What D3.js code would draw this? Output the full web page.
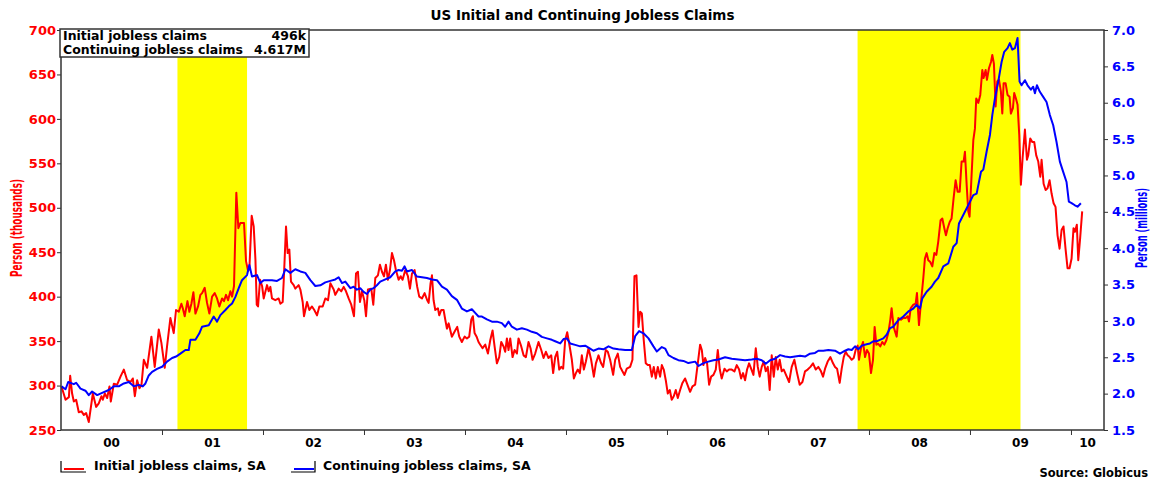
<!DOCTYPE html>
<html>
<head>
<meta charset="utf-8">
<script src="https://cdnjs.cloudflare.com/ajax/libs/d3/7.8.5/d3.min.js"></script>
<style>
  body { margin: 0; background: #fff; }
  svg text { font-family: "DejaVu Sans", Verdana, sans-serif; }
</style>
</head>
<body>
<div id="chart"></div>
<script>
// weekly readings (decimal years), initial claims in thousands
var initialYears = [
  2000.005, 2000.045, 2000.078, 2000.091, 2000.110, 2000.127, 2000.150, 2000.176, 2000.203, 2000.226,
  2000.249, 2000.275, 2000.315, 2000.348, 2000.374, 2000.401, 2000.414, 2000.434, 2000.457, 2000.480,
  2000.493, 2000.523, 2000.556, 2000.589, 2000.622, 2000.655, 2000.688, 2000.711, 2000.731, 2000.754,
  2000.777, 2000.797, 2000.820, 2000.853, 2000.895, 2000.928, 2000.968, 2000.994, 2001.027, 2001.050,
  2001.083, 2001.116, 2001.139, 2001.166, 2001.192, 2001.206, 2001.225, 2001.252, 2001.271, 2001.291,
  2001.311, 2001.331, 2001.357, 2001.380, 2001.397, 2001.423, 2001.446, 2001.469, 2001.496, 2001.522,
  2001.545, 2001.568, 2001.595, 2001.614, 2001.634, 2001.654, 2001.677, 2001.694, 2001.713, 2001.736,
  2001.756, 2001.776, 2001.792, 2001.812, 2001.832, 2001.852, 2001.865, 2001.888, 2001.908, 2001.925,
  2001.938, 2001.951, 2001.971, 2001.991, 2002.007, 2002.040, 2002.056, 2002.073, 2002.089, 2002.122,
  2002.155, 2002.172, 2002.195, 2002.205, 2002.228, 2002.244, 2002.261, 2002.277, 2002.304, 2002.320,
  2002.353, 2002.370, 2002.393, 2002.406, 2002.436, 2002.459, 2002.485, 2002.508, 2002.535, 2002.558,
  2002.591, 2002.617, 2002.644, 2002.667, 2002.700, 2002.716, 2002.749, 2002.775, 2002.799, 2002.822,
  2002.848, 2002.874, 2002.901, 2002.921, 2002.940, 2002.960, 2002.980, 2003.003, 2003.020, 2003.039,
  2003.072, 2003.092, 2003.112, 2003.138, 2003.158, 2003.178, 2003.198, 2003.217, 2003.237, 2003.257,
  2003.277, 2003.297, 2003.316, 2003.343, 2003.363, 2003.382, 2003.409, 2003.435, 2003.455, 2003.475,
  2003.501, 2003.527, 2003.547, 2003.574, 2003.600, 2003.626, 2003.640, 2003.659, 2003.673, 2003.689,
  2003.706, 2003.732, 2003.745, 2003.765, 2003.788, 2003.805, 2003.821, 2003.838, 2003.857, 2003.870,
  2003.903, 2003.923, 2003.943, 2003.969, 2003.996, 2004.019, 2004.042, 2004.062, 2004.078, 2004.095,
  2004.115, 2004.134, 2004.151, 2004.174, 2004.201, 2004.227, 2004.250, 2004.273, 2004.293, 2004.316,
  2004.339, 2004.359, 2004.382, 2004.398, 2004.415, 2004.431, 2004.448, 2004.471, 2004.491, 2004.514,
  2004.530, 2004.557, 2004.580, 2004.603, 2004.629, 2004.649, 2004.669, 2004.695, 2004.728, 2004.755,
  2004.778, 2004.801, 2004.827, 2004.854, 2004.873, 2004.893, 2004.913, 2004.933, 2004.953, 2004.972,
  2004.992, 2005.012, 2005.032, 2005.058, 2005.078, 2005.098, 2005.117, 2005.137, 2005.157, 2005.177,
  2005.197, 2005.223, 2005.249, 2005.276, 2005.296, 2005.322, 2005.348, 2005.368, 2005.394, 2005.414,
  2005.437, 2005.467, 2005.487, 2005.513, 2005.536, 2005.559, 2005.579, 2005.602, 2005.635, 2005.658,
  2005.678, 2005.698, 2005.718, 2005.734, 2005.751, 2005.770, 2005.790, 2005.810, 2005.830, 2005.850,
  2005.869, 2005.889, 2005.909, 2005.932, 2005.949, 2005.968, 2005.988, 2006.008, 2006.028, 2006.047,
  2006.067, 2006.087, 2006.107, 2006.130, 2006.153, 2006.179, 2006.229, 2006.252, 2006.279, 2006.305,
  2006.328, 2006.345, 2006.361, 2006.378, 2006.397, 2006.417, 2006.437, 2006.460, 2006.483, 2006.503,
  2006.523, 2006.542, 2006.569, 2006.592, 2006.615, 2006.641, 2006.668, 2006.691, 2006.714, 2006.734,
  2006.753, 2006.773, 2006.793, 2006.813, 2006.833, 2006.856, 2006.879, 2006.899, 2006.918, 2006.938,
  2006.958, 2006.978, 2006.998, 2007.017, 2007.037, 2007.057, 2007.077, 2007.097, 2007.116, 2007.136,
  2007.156, 2007.186, 2007.209, 2007.235, 2007.261, 2007.288, 2007.314, 2007.341, 2007.367, 2007.393,
  2007.420, 2007.446, 2007.473, 2007.499, 2007.525, 2007.545, 2007.565, 2007.591, 2007.618, 2007.644,
  2007.664, 2007.684, 2007.710, 2007.730, 2007.750, 2007.769, 2007.789, 2007.809, 2007.829, 2007.849,
  2007.868, 2007.888, 2007.901, 2007.921, 2007.941, 2007.961, 2007.980, 2008.000, 2008.020, 2008.040,
  2008.056, 2008.073, 2008.092, 2008.112, 2008.132, 2008.152, 2008.172, 2008.191, 2008.211, 2008.224,
  2008.244, 2008.274, 2008.291, 2008.317, 2008.340, 2008.363, 2008.383, 2008.396, 2008.413, 2008.439,
  2008.462, 2008.475, 2008.495, 2008.515, 2008.538, 2008.554, 2008.571, 2008.587, 2008.607, 2008.627,
  2008.647, 2008.667, 2008.686, 2008.709, 2008.726, 2008.746, 2008.762, 2008.779, 2008.799, 2008.818,
  2008.838, 2008.858, 2008.878, 2008.898, 2008.917, 2008.937, 2008.950, 2008.967, 2008.983, 2008.996,
  2009.016, 2009.033, 2009.049, 2009.062, 2009.082, 2009.102, 2009.122, 2009.135, 2009.155, 2009.168,
  2009.188, 2009.208, 2009.221, 2009.237, 2009.254, 2009.270, 2009.287, 2009.306, 2009.320, 2009.333,
  2009.353, 2009.372, 2009.392, 2009.405, 2009.425, 2009.438, 2009.455, 2009.471, 2009.488, 2009.504,
  2009.521, 2009.544, 2009.564, 2009.577, 2009.597, 2009.617, 2009.636, 2009.656, 2009.676, 2009.696,
  2009.709, 2009.729, 2009.749, 2009.768, 2009.788, 2009.808, 2009.828, 2009.847, 2009.867, 2009.887,
  2009.907, 2009.926, 2009.946, 2009.966, 2009.986, 2010.006, 2010.025, 2010.039, 2010.058, 2010.072,
  2010.091, 2010.111
];
var initialValues = [
  299, 284, 287, 311, 291, 282, 284, 270, 271, 267,
  269, 259, 291, 276, 280, 288, 284, 291, 286, 299,
  282, 302, 301, 310, 318, 306, 304, 308, 288, 306,
  297, 301, 329, 320, 355, 321, 363, 348, 320, 344,
  376, 359, 385, 383, 392, 387, 378, 395, 383, 392,
  405, 381, 389, 402, 404, 410, 393, 381, 400, 404,
  398, 389, 398, 395, 402, 396, 406, 400, 412, 517,
  477, 483, 483, 483, 440, 429, 431, 491, 479, 442,
  391, 389, 419, 412, 398, 413, 406, 411, 398, 396,
  398, 392, 394, 417, 479, 449, 453, 417, 413, 409,
  413, 408, 394, 378, 394, 385, 389, 385, 379, 389,
  389, 398, 396, 415, 408, 402, 409, 406, 411, 406,
  398, 391, 378, 426, 428, 394, 406, 396, 378, 408,
  409, 391, 421, 424, 436, 428, 423, 436, 419, 430,
  449, 441, 430, 419, 423, 419, 430, 423, 409, 426,
  430, 411, 400, 398, 404, 396, 393, 415, 424, 396,
  385, 387, 379, 385, 385, 374, 364, 370, 361, 355,
  362, 366, 355, 349, 355, 353, 355, 374, 378, 359,
  355, 349, 346, 342, 346, 336, 351, 362, 344, 325,
  332, 349, 344, 338, 353, 340, 353, 332, 340, 336,
  353, 344, 334, 332, 349, 342, 329, 336, 349, 340,
  331, 338, 331, 334, 314, 332, 338, 318, 321, 319,
  351, 360, 347, 329, 308, 314, 318, 314, 334, 318,
  327, 342, 329, 310, 325, 334, 325, 321, 340, 338,
  329, 312, 329, 336, 321, 316, 312, 319, 321, 329,
  423, 424, 366, 383, 381, 351, 325, 323, 323, 310,
  321, 308, 321, 310, 323, 318, 306, 291, 295, 284,
  288, 295, 286, 295, 303, 308, 293, 299, 301, 325,
  346, 340, 323, 331, 325, 301, 310, 312, 318, 340,
  318, 308, 319, 316, 318, 318, 316, 323, 318, 308,
  314, 306, 318, 325, 319, 312, 342, 321, 310, 321,
  327, 316, 321, 295, 334, 310, 332, 318, 329, 316,
  318, 310, 304, 321, 329, 314, 301, 304, 316, 318,
  321, 325, 318, 321, 316, 310, 319, 327, 332, 325,
  321, 319, 303, 319, 332, 338, 334, 332, 329, 331,
  340, 345, 329, 342, 349, 332, 340, 336, 314, 329,
  366, 346, 347, 344, 349, 346, 351, 359, 374, 387,
  366, 355, 376, 374, 376, 376, 378, 372, 387, 391,
  392, 404, 368, 394, 421, 443, 449, 441, 439, 434,
  449, 447, 462, 486, 488, 477, 469, 477, 484, 488,
  511, 531, 518, 518, 552, 552, 563, 526, 496, 490,
  537, 576, 589, 623, 618, 627, 655, 646, 655, 644,
  657, 664, 672, 662, 614, 642, 644, 631, 606, 640,
  640, 627, 625, 606, 612, 629, 623, 616, 582, 526,
  556, 588, 554, 559, 578, 574, 574, 559, 552, 535,
  554, 527, 520, 522, 531, 516, 505, 501, 469, 454,
  475, 479, 454, 432, 432, 443, 477, 473, 481, 441,
  466, 496
];

// continuing claims in millions
var continuingYears = [
  2000.005, 2000.045, 2000.071, 2000.127, 2000.150, 2000.193, 2000.242, 2000.275, 2000.308, 2000.358,
  2000.407, 2000.473, 2000.523, 2000.572, 2000.622, 2000.671, 2000.721, 2000.770, 2000.810, 2000.836,
  2000.869, 2000.902, 2000.951, 2001.001, 2001.050, 2001.100, 2001.139, 2001.182, 2001.232, 2001.265,
  2001.281, 2001.331, 2001.370, 2001.397, 2001.463, 2001.512, 2001.545, 2001.578, 2001.628, 2001.661,
  2001.694, 2001.727, 2001.760, 2001.792, 2001.842, 2001.865, 2001.891, 2001.941, 2001.974, 2002.007,
  2002.089, 2002.139, 2002.188, 2002.221, 2002.271, 2002.320, 2002.370, 2002.419, 2002.469, 2002.518,
  2002.568, 2002.617, 2002.667, 2002.716, 2002.749, 2002.782, 2002.815, 2002.865, 2002.898, 2002.930,
  2002.963, 2002.996, 2003.029, 2003.062, 2003.095, 2003.128, 2003.161, 2003.211, 2003.260, 2003.310,
  2003.343, 2003.376, 2003.402, 2003.425, 2003.475, 2003.524, 2003.574, 2003.623, 2003.673, 2003.722,
  2003.772, 2003.821, 2003.870, 2003.920, 2003.969, 2004.019, 2004.068, 2004.101, 2004.134, 2004.168,
  2004.217, 2004.267, 2004.316, 2004.365, 2004.398, 2004.431, 2004.464, 2004.514, 2004.563, 2004.613,
  2004.662, 2004.712, 2004.761, 2004.811, 2004.860, 2004.893, 2004.943, 2004.976, 2005.009, 2005.042,
  2005.091, 2005.141, 2005.190, 2005.239, 2005.272, 2005.322, 2005.371, 2005.421, 2005.470, 2005.520,
  2005.586, 2005.652, 2005.685, 2005.724, 2005.767, 2005.817, 2005.866, 2005.899, 2005.949, 2005.982,
  2006.015, 2006.064, 2006.113, 2006.163, 2006.212, 2006.279, 2006.312, 2006.361, 2006.410, 2006.460,
  2006.509, 2006.575, 2006.641, 2006.707, 2006.773, 2006.839, 2006.889, 2006.938, 2006.978, 2007.021,
  2007.070, 2007.120, 2007.169, 2007.219, 2007.268, 2007.317, 2007.367, 2007.416, 2007.466, 2007.499,
  2007.548, 2007.598, 2007.664, 2007.713, 2007.763, 2007.796, 2007.829, 2007.862, 2007.895, 2007.928,
  2007.977, 2008.010, 2008.043, 2008.076, 2008.109, 2008.142, 2008.175, 2008.208, 2008.241, 2008.291,
  2008.340, 2008.390, 2008.439, 2008.472, 2008.505, 2008.528, 2008.571, 2008.620, 2008.653, 2008.686,
  2008.736, 2008.785, 2008.835, 2008.868, 2008.891, 2008.950, 2009.033, 2009.066, 2009.109, 2009.132,
  2009.165, 2009.198, 2009.221, 2009.247, 2009.280, 2009.313, 2009.339, 2009.372, 2009.395, 2009.419,
  2009.445, 2009.471, 2009.491, 2009.511, 2009.544, 2009.570, 2009.603, 2009.626, 2009.643, 2009.663,
  2009.692, 2009.725, 2009.758, 2009.791, 2009.824, 2009.857, 2009.890, 2009.923, 2009.956, 2009.979,
  2010.006, 2010.039, 2010.065, 2010.098
];
var continuingValues = [
  2.10, 2.06, 2.16, 2.13, 2.15, 2.07, 2.04, 1.98, 2.03, 1.98,
  2.01, 2.05, 2.10, 2.10, 2.14, 2.16, 2.10, 2.12, 2.10, 2.14,
  2.25, 2.30, 2.34, 2.37, 2.44, 2.49, 2.51, 2.55, 2.60, 2.60,
  2.74, 2.74, 2.83, 2.92, 2.94, 3.06, 2.99, 3.08, 3.15, 3.20,
  3.24, 3.33, 3.45, 3.56, 3.63, 3.77, 3.61, 3.63, 3.52, 3.56,
  3.56, 3.55, 3.59, 3.71, 3.66, 3.71, 3.68, 3.66, 3.56, 3.48,
  3.49, 3.53, 3.55, 3.57, 3.60, 3.52, 3.54, 3.45, 3.47, 3.43,
  3.45, 3.40, 3.37, 3.43, 3.45, 3.49, 3.54, 3.57, 3.60, 3.68,
  3.70, 3.69, 3.75, 3.68, 3.70, 3.61, 3.60, 3.59, 3.57, 3.56,
  3.47, 3.43, 3.34, 3.29, 3.17, 3.13, 3.16, 3.11, 3.06, 3.06,
  3.02, 2.99, 2.99, 2.97, 2.92, 2.99, 2.92, 2.88, 2.90, 2.88,
  2.85, 2.83, 2.78, 2.76, 2.74, 2.72, 2.69, 2.75, 2.76, 2.69,
  2.67, 2.65, 2.66, 2.62, 2.59, 2.62, 2.61, 2.65, 2.62, 2.61,
  2.60, 2.60, 2.79, 2.86, 2.83, 2.76, 2.65, 2.58, 2.64, 2.62,
  2.53, 2.49, 2.46, 2.45, 2.42, 2.44, 2.38, 2.42, 2.44, 2.46,
  2.47, 2.50, 2.48, 2.47, 2.46, 2.47, 2.48, 2.46, 2.41, 2.46,
  2.48, 2.53, 2.51, 2.50, 2.51, 2.52, 2.51, 2.55, 2.56, 2.59,
  2.59, 2.60, 2.59, 2.55, 2.59, 2.61, 2.60, 2.65, 2.61, 2.66,
  2.68, 2.69, 2.72, 2.72, 2.74, 2.76, 2.81, 2.90, 2.92, 3.01,
  3.06, 3.13, 3.17, 3.22, 3.17, 3.31, 3.40, 3.47, 3.54, 3.59,
  3.75, 3.79, 4.02, 4.07, 4.34, 4.50, 4.73, 4.75, 5.05, 5.08,
  5.33, 5.56, 5.83, 6.06, 6.29, 6.56, 6.70, 6.75, 6.82, 6.73,
  6.75, 6.89, 6.29, 6.24, 6.31, 6.24, 6.18, 6.22, 6.13, 6.24,
  6.15, 6.08, 6.01, 5.83, 5.69, 5.46, 5.19, 5.05, 4.91, 4.64,
  4.62, 4.59, 4.57, 4.617
];

var recessions = [[2001.153, 2001.842], [2007.887, 2009.500]];
var yearTicks = [2001, 2002, 2003, 2004, 2005, 2006, 2007, 2008, 2009, 2010];
var labelYears = [2000, 2001, 2002, 2003, 2004, 2005, 2006, 2007, 2008, 2009, 2010];
var yearLabels = ["00", "01", "02", "03", "04", "05", "06", "07", "08", "09", "10"];
var leftTicks = [250, 300, 350, 400, 450, 500, 550, 600, 650, 700];
var rightTicks = [1.5, 2.0, 2.5, 3.0, 3.5, 4.0, 4.5, 5.0, 5.5, 6.0, 6.5, 7.0];
var latestNames = ["Initial jobless claims", "Continuing jobless claims"];
var latestValues = ["496k", "4.617M"];
var seriesNames = ["Initial jobless claims, SA", "Continuing jobless claims, SA"];

var margin = { top: 30, right: 47, bottom: 50, left: 61 },
    width = 1151 - margin.left - margin.right,
    height = 480 - margin.top - margin.bottom,
    xEnd = 2010.327,
    font = '"DejaVu Sans", Verdana, sans-serif',
    narrow = '"DejaVu Sans Condensed", "Liberation Sans Narrow", "Liberation Sans", sans-serif';

var svg = d3.select('#chart').append('svg')
    .attr('width', width + margin.left + margin.right)
    .attr('height', height + margin.top + margin.bottom);
var g = svg.append('g')
    .attr('transform', 'translate(' + margin.left + ',' + margin.top + ')');

var x = d3.scaleLinear().domain([2000, xEnd]).range([0, width]);
var yLeft = d3.scaleLinear().domain([250, 700]).range([height, 0]);
var yRight = d3.scaleLinear().domain([1.5, 7.0]).range([height, 0]);

// recession bands
g.selectAll('rect.recession')
  .data(recessions)
  .join('rect')
    .attr('class', 'recession')
    .attr('x', d => x(d[0]))
    .attr('y', 0)
    .attr('width', d => x(d[1]) - x(d[0]))
    .attr('height', height)
    .attr('fill', '#ffff00');

var initial = d3.zip(initialYears, initialValues);
var continuing = d3.zip(continuingYears, continuingValues);

g.append('path')
    .datum(initial)
    .attr('fill', 'none')
    .attr('stroke', '#ff0000')
    .attr('stroke-width', 2)
    .attr('stroke-linejoin', 'round')
    .attr('d', d3.line().x(d => x(d[0])).y(d => yLeft(d[1])));

g.append('path')
    .datum(continuing)
    .attr('fill', 'none')
    .attr('stroke', '#0000ff')
    .attr('stroke-width', 2)
    .attr('stroke-linejoin', 'round')
    .attr('d', d3.line().x(d => x(d[0])).y(d => yRight(d[1])));

// frame
g.append('rect')
    .attr('width', width)
    .attr('height', height)
    .attr('fill', 'none')
    .attr('stroke', '#333')
    .attr('stroke-width', 1.5);

// axes
var leftAxis = g.append('g')
    .call(d3.axisLeft(yLeft).tickValues(leftTicks).tickSize(4).tickPadding(1))
    .attr('font-family', font).attr('font-size', 13).attr('font-weight', 'bold')
    .style('color', '#333');
leftAxis.select('.domain').remove();
leftAxis.selectAll('text').attr('fill', '#ff0000');

var rightAxis = g.append('g')
    .attr('transform', 'translate(' + width + ',0)')
    .call(d3.axisRight(yRight).tickValues(rightTicks).tickSize(4).tickPadding(4).tickFormat(d3.format('.1f')))
    .attr('font-family', font).attr('font-size', 13).attr('font-weight', 'bold')
    .style('color', '#333');
rightAxis.select('.domain').remove();
rightAxis.selectAll('text').attr('fill', '#0000ff');

var bottomAxis = g.append('g')
    .attr('transform', 'translate(0,' + height + ')')
    .call(d3.axisBottom(x).tickValues(yearTicks).tickSize(5).tickFormat(''))
    .style('color', '#333');
bottomAxis.select('.domain').remove();

g.selectAll('text.year')
  .data(labelYears)
  .join('text')
    .attr('class', 'year')
    .attr('x', (d, i) => x((d + Math.min(d + 1, xEnd)) / 2))
    .attr('y', height + 17)
    .attr('text-anchor', 'middle')
    .style('font-size', '12px')
    .style('font-weight', 'bold')
    .text((d, i) => yearLabels[i]);

// axis titles
svg.append('text')
    .attr('transform', 'translate(22,228) rotate(-90)')
    .attr('text-anchor', 'middle')
    .attr('textLength', 98)
    .attr('lengthAdjust', 'spacingAndGlyphs')
    .style('font-family', narrow)
    .style('font-size', '15px')
    .style('font-weight', 'bold')
    .attr('fill', '#ff0000')
    .text('Person (thousands)');

svg.append('text')
    .attr('transform', 'translate(1147,228) rotate(-90)')
    .attr('text-anchor', 'middle')
    .attr('textLength', 80)
    .attr('lengthAdjust', 'spacingAndGlyphs')
    .style('font-family', narrow)
    .style('font-size', '15px')
    .style('font-weight', 'bold')
    .attr('fill', '#0000ff')
    .text('Person (millions)');

// title
svg.append('text')
    .attr('x', margin.left + width / 2)
    .attr('y', 20)
    .attr('text-anchor', 'middle')
    .style('font-size', '13.5px')
    .style('font-weight', 'bold')
    .text('US Initial and Continuing Jobless Claims');

// latest values box
var box = g.append('g');
box.append('rect')
    .attr('x', -1)
    .attr('y', -1)
    .attr('width', 249)
    .attr('height', 28)
    .attr('fill', '#fff')
    .attr('stroke', '#333')
    .attr('stroke-width', 1.5);
box.selectAll('text.name')
  .data(latestNames)
  .join('text')
    .attr('class', 'name')
    .attr('x', 2)
    .attr('y', (d, i) => 10 + i * 14)
    .style('font-size', '12.5px')
    .style('font-weight', 'bold')
    .text(d => d);
box.selectAll('text.value')
  .data(latestValues)
  .join('text')
    .attr('class', 'value')
    .attr('x', 245)
    .attr('y', (d, i) => 10 + i * 14)
    .attr('text-anchor', 'end')
    .style('font-size', '12.5px')
    .style('font-weight', 'bold')
    .text(d => d);

// legend
var legendX = [61, 291];
var legendColors = ['#ff0000', '#0000ff'];
var legend = svg.append('g');
legend.append('path')
    .attr('d', 'M' + legendX[0] + ',461V472H86')
    .attr('fill', 'none').attr('stroke', '#000').attr('stroke-width', 1.2);
legend.append('path')
    .attr('d', 'M' + legendX[1] + ',472H315V461')
    .attr('fill', 'none').attr('stroke', '#000').attr('stroke-width', 1.2);
legend.selectAll('line.swatch')
  .data(legendColors)
  .join('line')
    .attr('class', 'swatch')
    .attr('x1', (d, i) => legendX[i] + 3)
    .attr('x2', (d, i) => legendX[i] + 23)
    .attr('y1', 469)
    .attr('y2', 469)
    .attr('stroke', d => d)
    .attr('stroke-width', 2);
legend.selectAll('text')
  .data(seriesNames)
  .join('text')
    .attr('x', (d, i) => i === 0 ? 94 : 323)
    .attr('y', 470)
    .style('font-size', '12.5px')
    .style('font-weight', 'bold')
    .text(d => d);

svg.append('text')
    .attr('x', 1148)
    .attr('y', 477)
    .attr('text-anchor', 'end')
    .style('font-size', '11.5px')
    .style('font-weight', 'bold')
    .text('Source: Globicus');
</script>
</body>
</html>
